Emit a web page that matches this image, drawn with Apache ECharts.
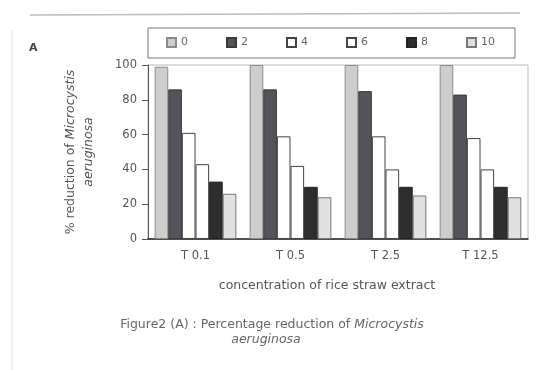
<!DOCTYPE html>
<html>
<head>
<meta charset="utf-8">
<script src="https://cdn.jsdelivr.net/npm/echarts@6/dist/echarts.min.js"></script>
<style>
  html, body { margin: 0; padding: 0; background: #fff; }
  #chart { width: 539px; height: 370px; }
</style>
</head>
<body>
<div id="chart"></div>
<script>
const categories = ["T 0.1", "T 0.5", "T 2.5", "T 12.5"];
const seriesNames = ["0", "2", "4", "6", "8", "10"];
const day0 = [99, 100, 100, 100];
const day2 = [86, 86, 85, 83];
const day4 = [61, 59, 59, 58];
const day6 = [43, 42, 40, 40];
const day8 = [33, 30, 30, 30];
const day10 = [26, 24, 25, 24];
const yTicks = [0, 20, 40, 60, 80, 100];

const values = [day0, day2, day4, day6, day8, day10];
const fills = ["#cdcdcd", "#57535a", "#ffffff", "#ffffff", "#2e2e2e", "#e0e0e0"];
const borders = ["#8a8a8a", "#3a3a3a", "#444", "#444", "#222", "#777"];

const FONT = "DejaVu Sans, Verdana, sans-serif";

const chart = echarts.init(document.getElementById("chart"));

const option = {
  backgroundColor: "#fff",
  animation: false,
  textStyle: { fontFamily: FONT },
  title: {
    text: "A",
    left: 24,
    top: 38,
    textStyle: { fontSize: 11, fontWeight: "bold", color: "#444", fontFamily: FONT },
  },
  legend: {
    data: seriesNames,
    left: 148,
    top: 28,
    width: 380,
    itemGap: 38,
    itemWidth: 9,
    itemHeight: 9,
    icon: "rect",
    padding: [9, 20, 10, 18],
    borderColor: "#777",
    borderWidth: 1,
    textStyle: { fontSize: 11, color: "#666" },
  },
  grid: {
    left: 148,
    right: 11,
    top: 65,
    bottom: 131,
    show: true,
    borderColor: "#bbb",
    borderWidth: 1,
  },
  xAxis: {
    type: "category",
    data: categories,
    name: "concentration of rice straw extract",
    nameLocation: "middle",
    nameGap: 40,
    nameTextStyle: { fontSize: 12.5, color: "#555", padding: [0, 22, 0, 0] },
    axisLine: { lineStyle: { color: "#222", width: 1.5 } },
    axisTick: { show: false },
    axisLabel: { fontSize: 11.5, color: "#555", margin: 11 },
  },
  yAxis: {
    type: "value",
    min: 0,
    max: 100,
    interval: 20,
    name: "{n|% reduction of }{i|Microcystis}\n{i|aeruginosa}",
    nameLocation: "middle",
    nameGap: 50,
    nameTextStyle: {
      fontSize: 12.5,
      color: "#555",
      lineHeight: 18,
      rich: {
        n: { fontSize: 12.5, color: "#555", fontFamily: FONT },
        i: { fontSize: 12.5, color: "#555", fontStyle: "italic", fontFamily: FONT },
      },
    },
    axisLine: { show: true, lineStyle: { color: "#555" } },
    axisTick: { show: true, length: 6, lineStyle: { color: "#555" } },
    axisLabel: {
      fontSize: 11.5,
      color: "#555",
      margin: 11,
      formatter: (v) => (yTicks.includes(v) ? String(v) : ""),
    },
    splitLine: { show: false },
  },
  series: seriesNames.map((name, i) => ({
    name,
    type: "bar",
    data: values[i],
    barGap: "0%",
    barCategoryGap: "14%",
    itemStyle: {
      color: fills[i],
      borderColor: borders[i],
      borderWidth: 1,
    },
  })),
  graphic: [
    {
      type: "text",
      x: 272,
      y: 318,
      style: {
        text: "{n|Figure2 (A) : Percentage reduction of }{i|Microcystis}",
        textAlign: "center",
        rich: {
          n: { fontSize: 12.5, fill: "#666", fontFamily: FONT },
          i: { fontSize: 12.5, fill: "#666", fontStyle: "italic", fontFamily: FONT },
        },
      },
    },
    {
      type: "text",
      x: 266,
      y: 333,
      style: {
        text: "aeruginosa",
        textAlign: "center",
        fontSize: 12.5,
        fontStyle: "italic",
        fill: "#666",
        fontFamily: FONT,
      },
    },
    {
      type: "line",
      shape: { x1: 30, y1: 15, x2: 520, y2: 13 },
      style: { stroke: "#bbb", lineWidth: 1.5 },
    },
    {
      type: "line",
      shape: { x1: 12, y1: 30, x2: 12, y2: 370 },
      style: { stroke: "#e4e4e4", lineWidth: 1 },
    },
  ],
};

chart.setOption(option);
</script>
</body>
</html>
